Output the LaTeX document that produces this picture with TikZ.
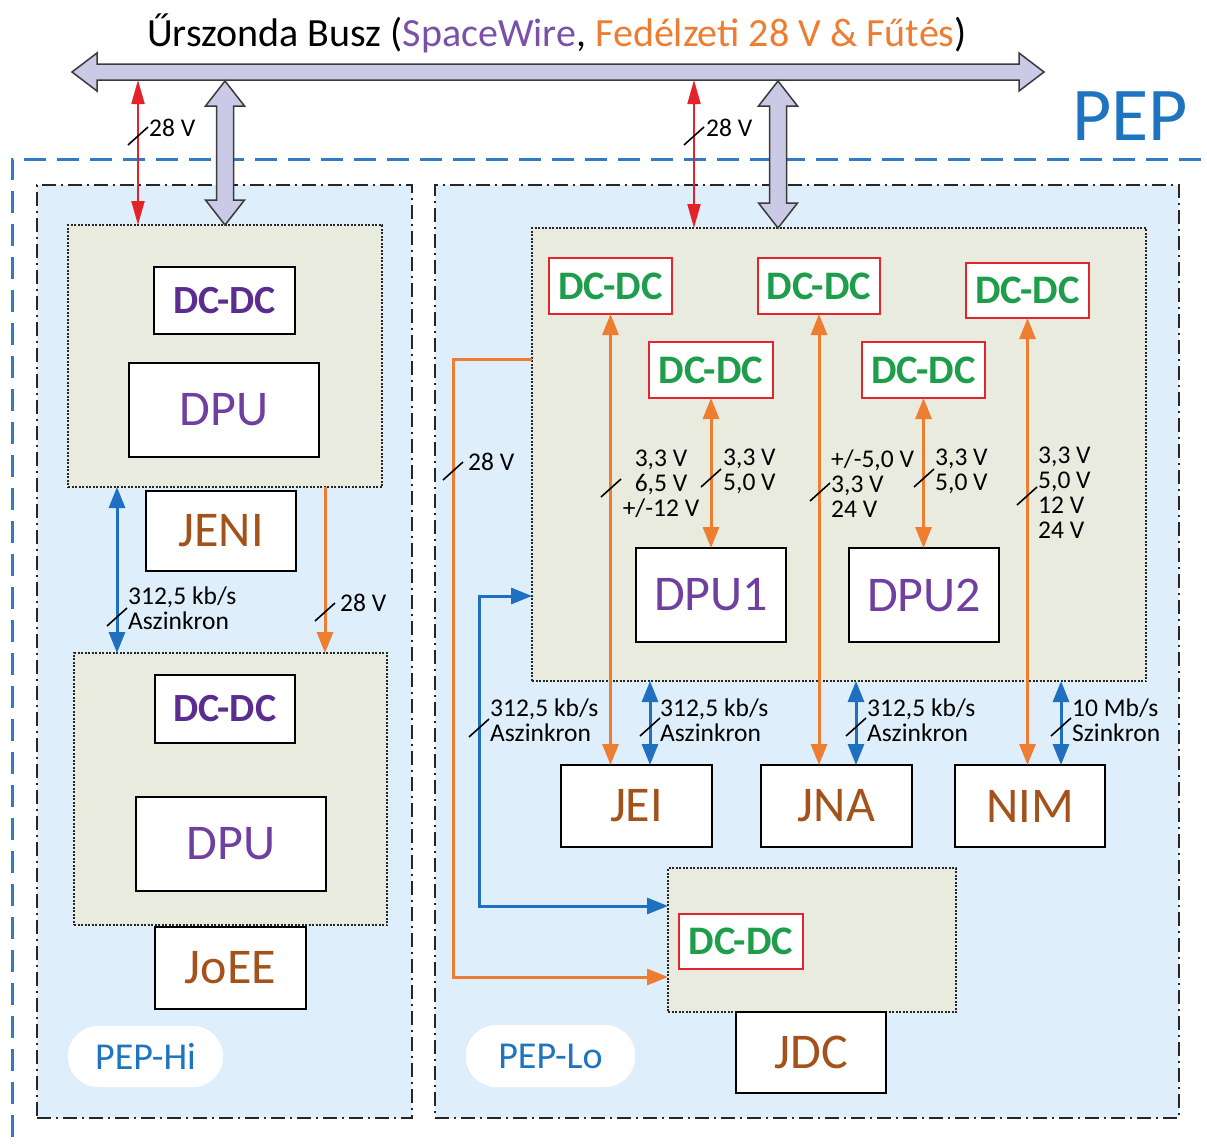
\documentclass[tikz,border=0pt]{standalone}
\usepackage{fontspec}
\setmainfont{Carlito}
\usetikzlibrary{arrows.meta,calc}
\definecolor{lightfill}{HTML}{DFEEFB}
\definecolor{grayfill}{HTML}{E9EBDE}
\definecolor{lav}{HTML}{CACAE6}
\definecolor{lavline}{HTML}{3A3A3A}
\definecolor{dcred}{HTML}{E0262C}
\definecolor{dcgreen}{HTML}{1E9E4A}
\definecolor{dcpurple}{HTML}{5C2D91}
\definecolor{dpupurple}{HTML}{7040A0}
\definecolor{namebrown}{HTML}{A3521C}
\definecolor{orng}{HTML}{ED7D31}
\definecolor{blu}{HTML}{1F70C0}
\definecolor{redarr}{HTML}{E3222A}
\definecolor{pepblue}{HTML}{1F74C0}
\definecolor{spw}{HTML}{7A50A8}
\definecolor{outerblue}{HTML}{2F7BC4}
\newcommand{\tickat}[2]{\draw[tickst] (#1,#2) ++(-10,9) -- ++(20,-18);}
\begin{document}
\begin{tikzpicture}[x=1pt,y=-1pt,
  outer/.style={draw=outerblue, line width=3pt, dash pattern=on 22pt off 11pt},
  region/.style={draw=black!85, line width=2.2pt, dash pattern=on 14pt off 5pt on 2pt off 5pt, fill=lightfill, inner sep=0pt, outer sep=0pt},
  gbox/.style={draw=black!85, line width=2.4pt, dash pattern=on 2pt off 1.5pt, fill=grayfill, inner sep=0pt, outer sep=0pt},
  box/.style={draw=black, line width=2.5pt, fill=white, inner sep=0pt, outer sep=0pt},
  pbox/.style={box, font=\fontsize{40}{42}\selectfont\bfseries, text=dcpurple},
  rbox/.style={box, draw=dcred, line width=2.8pt, font=\fontsize{40.5}{42}\selectfont\bfseries, text=dcgreen},
  bigp/.style={box, font=\fontsize{50}{52}\selectfont, text=dpupurple},
  bigb/.style={box, font=\fontsize{50}{52}\selectfont, text=namebrown},
  pill/.style={fill=white, rounded corners=30pt, inner sep=0pt, font=\fontsize{38}{40}\selectfont, text=pepblue},
  fat/.style={fill=lav, draw=lavline, line width=1.5pt, line join=miter},
  redline/.style={draw=redarr, line width=2pt, {Triangle[length=24pt,width=13pt]}-{Triangle[length=24pt,width=13pt]}},
  orline/.style={draw=orng, line width=3pt},
  orboth/.style={orline, {Triangle[length=21pt,width=16pt]}-{Triangle[length=21pt,width=16pt]}},
  orend/.style={orline, -{Triangle[length=21pt,width=16pt]}},
  bluboth/.style={draw=blu, line width=3pt, {Triangle[length=21pt,width=16pt]}-{Triangle[length=21pt,width=16pt]}},
  tickst/.style={draw=black, line width=1.6pt},
  lbl/.style={font=\fontsize{25.5}{25}\selectfont, inner sep=0pt, align=left, text=black}
]
\useasboundingbox (0,0) rectangle (1207,1146);
\fill[white] (0,0) rectangle (1207,1146);

% title and PEP
\node[font=\fontsize{40}{44}\selectfont] (title) at (557,33) {Űrszonda Busz ({\color{spw}SpaceWire}, {\color{orng}Fedélzeti 28 V \& Fűtés})};
\node[font=\fontsize{76}{80}\selectfont, text=pepblue] (pep) at (1130,116) {PEP};

% outer PEP frame
\draw[outer] (12,1170) -- (12,159) -- (1230,159);

% regions
\node[region, minimum width=375pt, minimum height=933pt] (hi) at (224.5,651.5) {};
\node[region, minimum width=744pt, minimum height=933pt] (lo) at (807,651.5) {};

% gray boxes
\node[gbox, minimum width=314pt, minimum height=262pt] (hiTop) at (225,356) {};
\node[gbox, minimum width=313pt, minimum height=272pt] (hiBot) at (230.5,789) {};
\node[gbox, minimum width=614pt, minimum height=453pt] (loTop) at (839,454.5) {};
\node[gbox, minimum width=288pt, minimum height=144pt] (loBot) at (812,940) {};

% bus
\filldraw[fat] (72,72) -- (97,53) -- (97,64) -- (1019,64) -- (1019,53) -- (1044,72) -- (1019,91) -- (1019,80) -- (97,80) -- (97,91) -- cycle;
\coordinate (bus) at (558,72);
% fat vertical links
\filldraw[fat] (225,81) -- (244.5,106) -- (233.5,106) -- (233.5,200) -- (244.5,200) -- (225,225) -- (205.5,200) -- (216.5,200) -- (216.5,106) -- (205.5,106) -- cycle;
\filldraw[fat] (778,81) -- (797.5,106) -- (786.5,106) -- (786.5,203) -- (797.5,203) -- (778,228) -- (758.5,203) -- (769.5,203) -- (769.5,106) -- (758.5,106) -- cycle;

% red 28 V links
\coordinate (bR1) at (138,80);
\coordinate (bR2) at (694,80);
\draw[redline] (bR1) -- (bR1 |- hiTop.north);
\draw[redline] (bR2) -- (bR2 |- loTop.north);

% boxes left
\node[pbox, minimum width=141pt, minimum height=67pt] (hdc1) at (224.5,300.5) {DC-DC};
\node[bigp, minimum width=190pt, minimum height=94pt] (hdpu1) at (224,410) {DPU};
\node[bigb, minimum width=150pt, minimum height=80pt] (jeni) at (221,531) {JENI};
\node[pbox, minimum width=140pt, minimum height=68pt] (hdc2) at (225,709) {DC-DC};
\node[bigp, minimum width=190pt, minimum height=94pt] (hdpu2) at (231,844) {DPU};
\node[bigb, minimum width=151pt, minimum height=82pt] (joee) at (230.5,968) {JoEE};
\node[pill, minimum width=155pt, minimum height=61pt] (pephi) at (145.5,1056.5) {PEP-Hi};

% boxes right
\node[rbox, minimum width=123pt, minimum height=56pt] (dc1) at (610.5,286) {DC-DC};
\node[rbox, minimum width=122pt, minimum height=56pt] (dc2) at (819,286) {DC-DC};
\node[rbox, minimum width=123pt, minimum height=55pt] (dc3) at (1027.5,290.5) {DC-DC};
\node[rbox, minimum width=124pt, minimum height=56pt] (dc4) at (711,370) {DC-DC};
\node[rbox, minimum width=123pt, minimum height=56pt] (dc5) at (923.5,370) {DC-DC};
\node[bigp, minimum width=150pt, minimum height=94pt] (dpu1) at (711,595) {DPU1};
\node[bigp, minimum width=150pt, minimum height=94pt] (dpu2) at (924,595) {DPU2};
\node[bigb, minimum width=151pt, minimum height=82pt] (jei) at (636.5,806) {JEI};
\node[bigb, minimum width=151pt, minimum height=82pt] (jna) at (836.5,806) {JNA};
\node[bigb, minimum width=150pt, minimum height=82pt] (nim) at (1030,806) {NIM};
\node[rbox, minimum width=124pt, minimum height=55pt] (dc6) at (741,941.5) {DC-DC};
\node[bigb, minimum width=150pt, minimum height=81pt] (jdc) at (811,1052.5) {JDC};
\node[pill, minimum width=169pt, minimum height=62pt] (peplo) at (550.5,1056) {PEP-Lo};

% left connectors
\coordinate (xb1) at (117,0);
\coordinate (xo1) at (325,0);
\draw[bluboth] (hiTop.south -| xb1) -- (hiBot.north -| xb1);
\draw[orend] (hiTop.south -| xo1) -- (hiBot.north -| xo1);

% right power connectors
\draw[orboth] (dc1.south) -- (dc1.south |- jei.north);
\draw[orboth] (dc4.south) -- (dc4.south |- dpu1.north);
\draw[orboth] (dc2.south) -- (dc2.south |- jna.north);
\draw[orboth] (dc5.south) -- (dc5.south |- dpu2.north);
\draw[orboth] (dc3.south) -- (dc3.south |- nim.north);

% right data connectors
\coordinate (xj) at (650,0);
\coordinate (xn) at (856,0);
\coordinate (xm) at (1061,0);
\draw[bluboth] (loTop.south -| xj) -- (jei.north -| xj);
\draw[bluboth] (loTop.south -| xn) -- (jna.north -| xn);
\draw[bluboth] (loTop.south -| xm) -- (nim.north -| xm);

% feeds to JDC
\coordinate (fA) at ([yshift=95.5pt]loTop.west);
\coordinate (fB) at ([yshift=-37pt]loBot.west);
\coordinate (xf) at (453,0);
\draw[orend] (fA) -- (fA -| xf) |- (fB);
\coordinate (bA) at ([yshift=-141.5pt]loTop.west);
\coordinate (bB) at ([yshift=34pt]loBot.west);
\coordinate (xbb) at (479,0);
\draw[bluboth] (bA) -- (bA -| xbb) |- (bB);

% tick marks
\tickat{138}{136}
\tickat{694}{136}
\tickat{117}{617}
\tickat{325}{612}
\tickat{453}{471}
\tickat{479}{728}
\tickat{650}{727}
\tickat{856}{727}
\tickat{1061}{727}
\tickat{611}{488}
\tickat{711}{478}
\tickat{820}{492}
\tickat{924}{478}
\tickat{1027}{496}

% labels
\node[lbl, anchor=west] (l1) at (149,128) {28 V};
\node[lbl, anchor=west] (l2) at (706,128) {28 V};
\node[lbl, anchor=west] (l3) at (128,608.5) {312,5 kb/s\\Aszinkron};
\node[lbl, anchor=west] (l4) at (340,603) {28 V};
\node[lbl, anchor=west] (l5) at (468,462) {28 V};
\node[lbl, anchor=west] (l6) at (490,720) {312,5 kb/s\\Aszinkron};
\node[lbl, anchor=west] (l7) at (660,720) {312,5 kb/s\\Aszinkron};
\node[lbl, anchor=west] (l8) at (867,720) {312,5 kb/s\\Aszinkron};
\node[lbl, anchor=west] (l9) at (1072,720) {10 Mb/s\\Szinkron};
\node[lbl, align=center] (l10) at (661,484) {3,3 V\\6,5 V\\+/-12 V};
\node[lbl, anchor=west] (l11) at (723,471) {3,3 V\\5,0 V};
\node[lbl, anchor=west] (l12) at (831,484) {+/-5,0 V\\3,3 V\\24 V};
\node[lbl, anchor=west] (l13) at (935,471) {3,3 V\\5,0 V};
\node[lbl, anchor=west] (l14) at (1038,492.5) {3,3 V\\5,0 V\\12 V\\24 V};
\end{tikzpicture}
\end{document}
